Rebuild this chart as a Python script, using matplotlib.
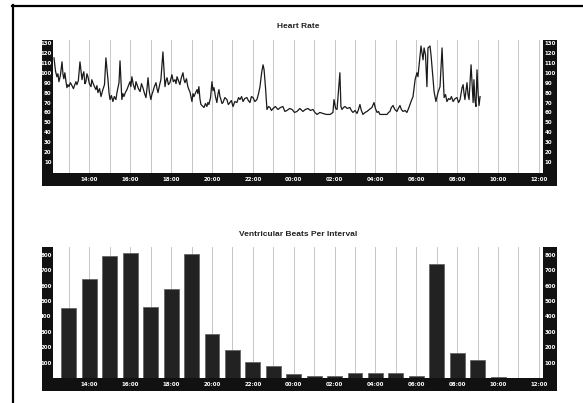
# Holter summary: heart rate trend + ventricular beats per hour
import matplotlib
matplotlib.use("Agg")
import matplotlib.pyplot as plt
from matplotlib.lines import Line2D

# heart rate trace (time in hours from midnight of day 1, bpm)
hr_time = [12.27, 12.34, 12.41, 12.46, 12.51, 12.58, 12.66, 12.71, 12.75, 12.80,
           12.85, 12.90, 12.95, 13.00, 13.07, 13.15, 13.22, 13.29, 13.34, 13.39,
           13.46, 13.54, 13.64, 13.68, 13.73, 13.78, 13.83, 13.88, 13.93, 14.00,
           14.08, 14.12, 14.17, 14.25, 14.32, 14.37, 14.42, 14.50, 14.57, 14.62,
           14.66, 14.74, 14.81, 14.91, 14.96, 15.01, 15.08, 15.15, 15.22, 15.30,
           15.35, 15.40, 15.45, 15.50, 15.59, 15.64, 15.69, 15.76, 15.84, 15.91,
           15.99, 16.03, 16.08, 16.15, 16.23, 16.28, 16.33, 16.40, 16.48, 16.55,
           16.62, 16.70, 16.77, 16.82, 16.87, 16.94, 17.01, 17.06, 17.11, 17.18,
           17.26, 17.31, 17.36, 17.43, 17.50, 17.60, 17.70, 17.75, 17.80, 17.87,
           17.94, 17.99, 18.04, 18.11, 18.19, 18.24, 18.29, 18.36, 18.43, 18.50,
           18.58, 18.63, 18.68, 18.75, 18.82, 18.87, 18.92, 18.97, 19.02, 19.07,
           19.12, 19.20, 19.27, 19.31, 19.36, 19.41, 19.46, 19.61, 19.68, 19.75,
           19.80, 19.85, 19.93, 20.00, 20.05, 20.10, 20.17, 20.24, 20.29, 20.34,
           20.39, 20.44, 20.49, 20.54, 20.63, 20.73, 20.80, 20.88, 20.95, 21.03,
           21.12, 21.22, 21.30, 21.37, 21.45, 21.52, 21.60, 21.71, 21.78, 21.86,
           21.93, 22.01, 22.10, 22.20, 22.28, 22.35, 22.43, 22.50, 22.55, 22.62,
           22.69, 22.77, 22.84, 22.91, 22.99, 23.10, 23.23, 23.35, 23.47, 23.57,
           23.67, 23.80, 23.92, 24.04, 24.16, 24.30, 24.45, 24.57, 24.70, 24.82,
           24.94, 25.04, 25.14, 25.28, 25.43, 25.60, 25.78, 25.92, 25.97, 26.05,
           26.12, 26.26, 26.31, 26.36, 26.44, 26.51, 26.62, 26.75, 26.82, 26.90,
           27.00, 27.10, 27.17, 27.24, 27.31, 27.39, 27.49, 27.59, 27.70, 27.83,
           27.93, 28.00, 28.08, 28.15, 28.22, 28.40, 28.57, 28.64, 28.71, 28.78,
           28.86, 28.95, 29.05, 29.12, 29.20, 29.27, 29.35, 29.45, 29.54, 29.62,
           29.69, 29.76, 29.84, 29.94, 30.03, 30.08, 30.13, 30.23, 30.33, 30.38,
           30.45, 30.52, 30.57, 30.67, 30.72, 30.77, 30.87, 30.96, 31.06, 31.16,
           31.26, 31.36, 31.43, 31.50, 31.58, 31.65, 31.72, 31.80, 31.90, 31.99,
           32.07, 32.14, 32.24, 32.29, 32.33, 32.38, 32.43, 32.48, 32.53, 32.58,
           32.68, 32.78, 32.82, 32.87, 32.92, 32.97, 33.02, 33.07, 33.12]
hr_bpm = [115, 102, 96, 99, 91, 97, 111, 98, 94, 100,
          92, 85, 88, 86, 90, 87, 84, 88, 91, 88,
          92, 111, 93, 98, 101, 89, 91, 99, 96, 89,
          86, 93, 90, 86, 83, 87, 80, 84, 76, 80,
          83, 88, 115, 93, 80, 73, 77, 71, 76, 73,
          80, 85, 90, 112, 73, 79, 76, 80, 83, 87,
          91, 86, 96, 88, 83, 91, 88, 84, 81, 89,
          85, 79, 75, 84, 95, 80, 73, 78, 81, 86,
          90, 84, 80, 87, 93, 121, 86, 92, 95, 88,
          90, 94, 98, 91, 93, 89, 96, 92, 88, 95,
          100, 93, 90, 94, 86, 83, 81, 76, 71, 79,
          76, 80, 83, 79, 86, 74, 68, 65, 69, 66,
          70, 68, 75, 91, 82, 85, 76, 70, 78, 83,
          76, 73, 69, 70, 75, 73, 68, 70, 72, 66,
          71, 70, 75, 73, 76, 71, 74, 75, 72, 70,
          76, 75, 71, 73, 79, 86, 100, 108, 103, 85,
          63, 66, 65, 62, 64, 66, 63, 65, 66, 61,
          62, 64, 63, 60, 61, 64, 61, 63, 64, 62,
          63, 60, 58, 60, 59, 58, 58, 60, 73, 64,
          63, 100, 66, 63, 65, 66, 64, 65, 62, 60,
          62, 59, 63, 68, 62, 58, 60, 61, 63, 65,
          70, 64, 60, 61, 58, 58, 58, 60, 61, 65,
          67, 63, 61, 64, 67, 63, 61, 62, 60, 64,
          68, 72, 76, 93, 100, 96, 106, 127, 113, 125,
          118, 86, 125, 127, 118, 106, 81, 71, 80, 86,
          125, 75, 78, 71, 74, 73, 76, 71, 74, 75,
          70, 73, 85, 88, 80, 73, 82, 90, 78, 73,
          108, 70, 93, 72, 66, 103, 80, 67, 76]

# ventricular beats per hourly interval
vb_hour = list(range(13, 35))
vb_count = [455, 640, 795, 815, 460, 580, 805, 285, 180, 105, 80,
            25, 15, 15, 30, 30, 30, 15, 740, 160, 115, 5]

tick_hours = list(range(14, 37, 2))
tick_labels = ["%02d:00" % (h % 24) for h in tick_hours]

W, H = 583, 403
fig = plt.figure(figsize=(W / 100, H / 100), dpi=100)


def box(x0, y0, x1, y1):
    # pixel box -> figure fraction rect
    return [x0 / W, 1 - y1 / H, (x1 - x0) / W, (y1 - y0) / H]


def panel(top, plot_bottom, strip_bottom):
    bg = fig.add_axes(box(42, top, 557, strip_bottom))
    bg.set_facecolor("#111111")
    bg.set_xticks([])
    bg.set_yticks([])
    for s in bg.spines.values():
        s.set_visible(False)
    ax = fig.add_axes(box(53, top, 543, plot_bottom))
    ax.set_facecolor("white")
    for s in ax.spines.values():
        s.set_visible(False)
    ax.set_xlim(12.22, 36.2)
    for h in range(13, 37):
        ax.axvline(h, color="#bbbbbb", lw=0.6, zorder=0)
    ax.set_xticks(tick_hours)
    ax.set_xticklabels(tick_labels, fontweight="bold")
    ax.tick_params(axis="x", colors="white", labelsize=4, length=0, pad=3)
    ax.tick_params(axis="y", colors="white", labelsize=4, length=0, pad=1)
    return ax


def right_labels(ax, ticks):
    r = ax.twinx()
    r.set_ylim(ax.get_ylim())
    r.set_yticks(ticks)
    r.set_yticklabels([str(t) for t in ticks], fontweight="bold")
    r.tick_params(colors="white", labelsize=4, length=0, pad=1)
    for s in r.spines.values():
        s.set_visible(False)


# heart rate
ax1 = panel(40, 173, 186)
ax1.plot(hr_time, hr_bpm, color="#1a1a1a", lw=0.9)
ax1.set_ylim(-1, 133)
yt = list(range(10, 131, 10))
ax1.set_yticks(yt)
ax1.set_yticklabels([str(t) for t in yt], fontweight="bold")
right_labels(ax1, yt)

# ventricular beats
ax2 = panel(247, 378, 391)
ax2.bar(vb_hour, vb_count, width=0.73, color="#222222",
        edgecolor="#666666", lw=0.6, zorder=2)
ax2.set_ylim(0, 851)
yt2 = list(range(100, 801, 100))
ax2.set_yticks(yt2)
ax2.set_yticklabels([str(t) for t in yt2], fontweight="bold")
right_labels(ax2, yt2)

fig.text(298 / W, 1 - 26 / H, "Heart Rate", ha="center", va="center",
         fontsize=6, fontweight="bold", family="Liberation Sans", color="#222222")
fig.text(298 / W, 1 - 235 / H, "Ventricular Beats Per Interval", ha="center",
         va="center", fontsize=6, fontweight="bold", family="Liberation Sans",
         color="#222222")

# page frame (left and top edges visible)
fig.add_artist(Line2D([13 / W, 13 / W], [0, 1 - 5 / H], color="black", lw=1.6))
fig.add_artist(Line2D([12 / W, 1], [1 - 6 / H, 1 - 6 / H], color="black", lw=1.6))

fig.savefig("out.png", dpi=100)
